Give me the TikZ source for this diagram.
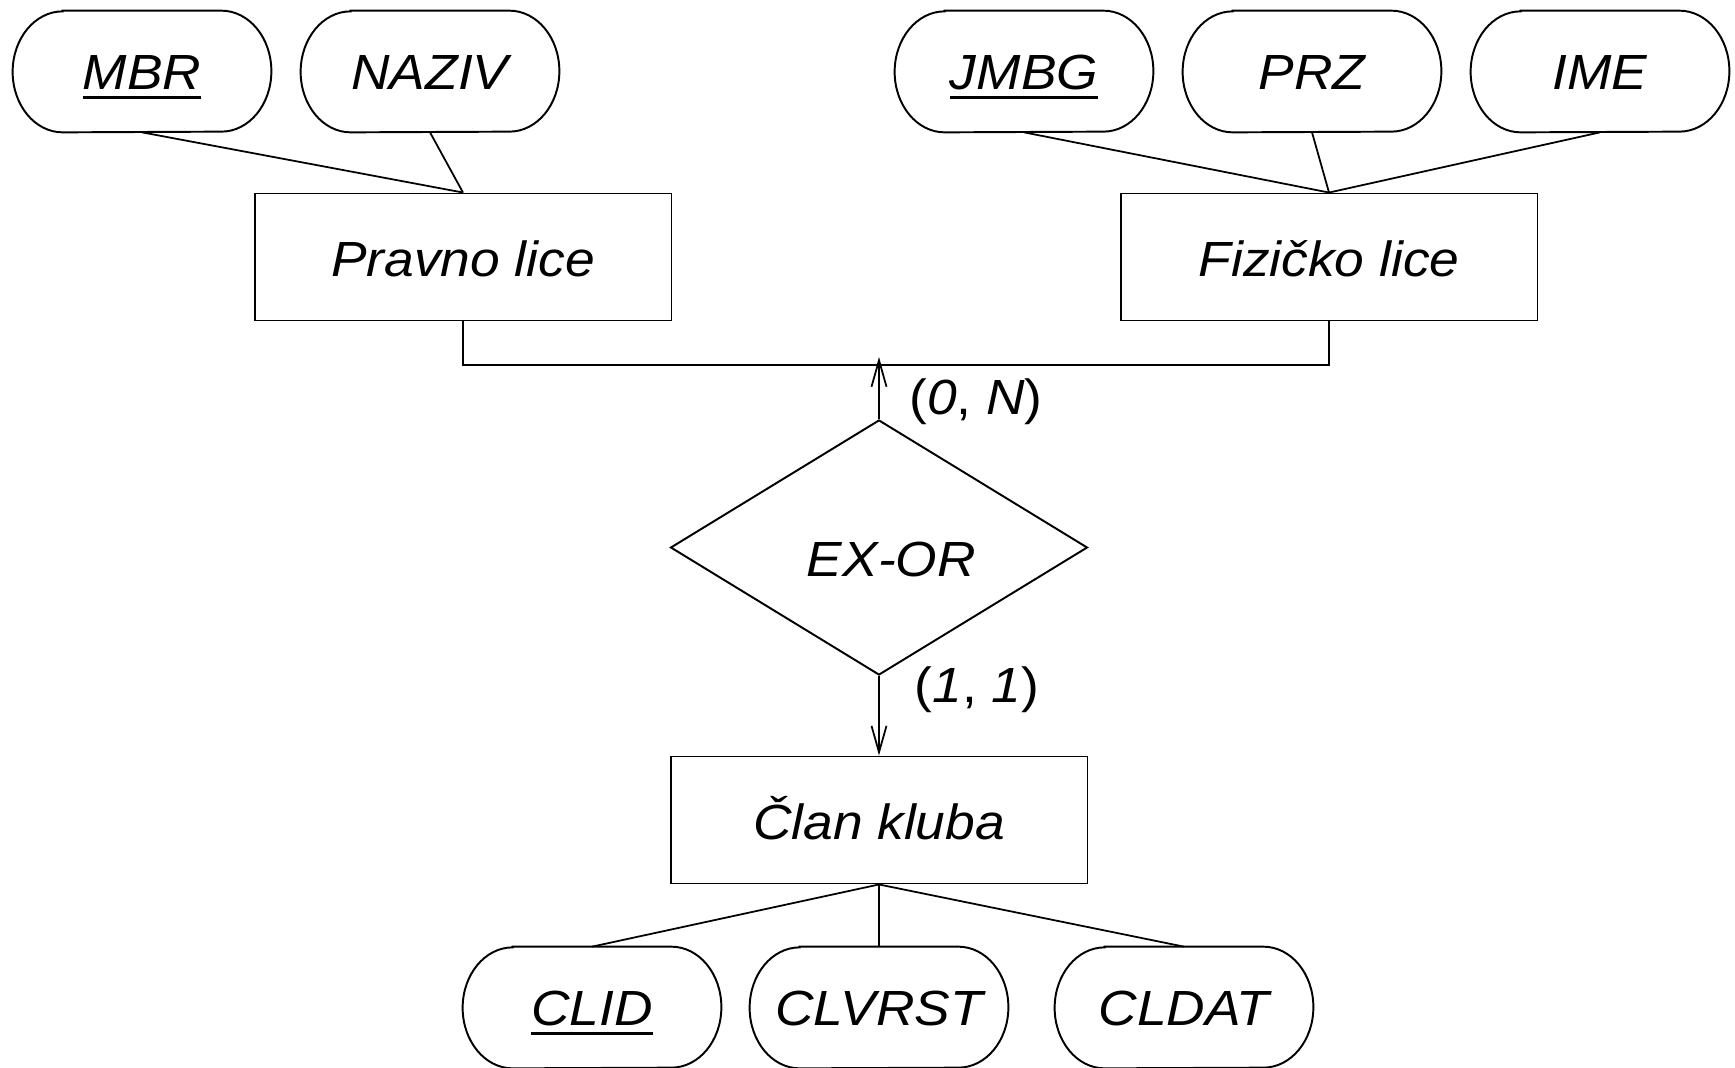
\documentclass[tikz,border=0pt]{standalone}
\usepackage{fontspec}
\setmainfont{Liberation Sans}[FakeStretch=1.08]
\usetikzlibrary{shapes.geometric,arrows.meta}

\newcommand\keyattr[1]{\setbox0\hbox{#1}\rlap{\smash{\rule[-0.2em]{\wd0}{0.06em}}}\box0}

\tikzset{
  lbl/.style={font=\fontsize{28pt}{33pt}\selectfont\itshape},
  attrbox/.style={lbl, minimum width=146.3pt, minimum height=68.6pt, inner sep=0pt,
    text height=20pt, text depth=0pt},
  attrline/.style={line width=1.1pt},
  entity/.style={lbl, draw, line width=1.1pt, minimum width=236.4pt, minimum height=72pt,
    inner sep=0pt, text height=22.3pt, text depth=0pt},
  rel/.style={lbl, draw, diamond, line width=1.1pt, minimum width=236.4pt, minimum height=144.6pt,
    inner sep=0pt, text height=32.5pt, text depth=0pt},
  conn/.style={line width=1pt},
  arr/.style={conn, -{Straight Barb[length=15pt, width=8.5pt]}},
  card/.style={font=\fontsize{28pt}{33pt}\selectfont, inner sep=0pt}
}

\newcommand\attrnode[4]{%
  \node[attrbox] (#1) at (#2,-#3) {#4};
  \draw[attrline] ([xshift=28.35pt]#1.north west) -- ([xshift=-28.35pt]#1.north east)
    arc[start angle=90, end angle=-90, x radius=28.35pt, y radius=34.3pt]
    -- ([xshift=28.35pt]#1.south west)
    arc[start angle=270, end angle=90, x radius=28.35pt, y radius=34.3pt] -- cycle;
}

\begin{document}
\begin{tikzpicture}[x=0.567pt, y=0.567pt]
\useasboundingbox (0,0) rectangle (1735,-1067);

% attributes
\attrnode{mbr}{142}{71.5}{\keyattr{MBR}}
\attrnode{naziv}{430}{71.5}{NAZIV}
\attrnode{jmbg}{1024}{71.5}{\keyattr{JMBG}}
\attrnode{prz}{1312}{71.5}{PRZ}
\attrnode{ime}{1600}{71.5}{IME}
\attrnode{clid}{592}{1007.5}{\keyattr{CLID}}
\attrnode{clvrst}{879}{1007.5}{CLVRST}
\attrnode{cldat}{1184}{1007.5}{CLDAT}

% entities
\node[entity] (pravno) at (463,-257) {Pravno lice};
\node[entity] (fizicko) at (1329,-257) {Fizičko lice};
\node[entity] (clan) at (879,-820) {Član kluba};

% relationship
\node[rel] (exor) at (879,-547.5) {\hspace*{14pt}EX-OR};

% attribute connectors
\draw[conn] (mbr.south) -- (pravno.north);
\draw[conn] (naziv.south) -- (pravno.north);
\draw[conn] (jmbg.south) -- (fizicko.north);
\draw[conn] (prz.south) -- (fizicko.north);
\draw[conn] (ime.south) -- (fizicko.north);
\draw[conn] (clan.south) -- (clid.north);
\draw[conn] (clan.south) -- (clvrst.north);
\draw[conn] (clan.south) -- (cldat.north);

% generalisation connector
\coordinate (hub) at (879,-365);
\coordinate (tip) at (879,-357);
\draw[conn] (pravno.south) |- (hub) -| (fizicko.south);
\draw[arr] (exor.north) -- (tip);
\draw[arr] (exor.south) -- (clan.north);

% cardinalities
\node[card] (c0n) at (976,-402) {(\textit{0}, \textit{N})};
\node[card] (c11) at (977,-690) {(\textit{1}, \textit{1})};
\end{tikzpicture}
\end{document}
